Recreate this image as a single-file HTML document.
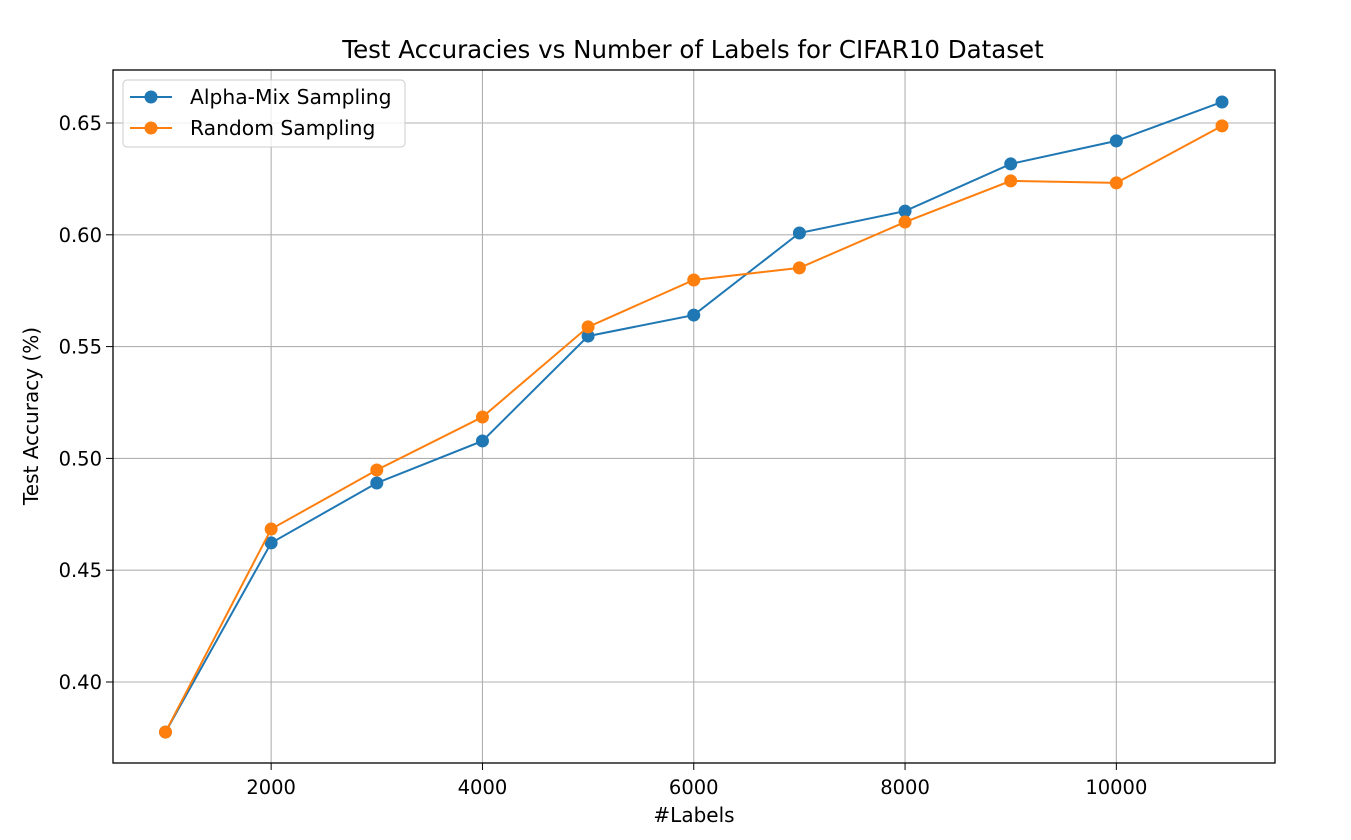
<!DOCTYPE html>
<html><head><meta charset="utf-8"><style>
body{margin:0;background:#fff;}
svg{font-family:"DejaVu Sans","Liberation Sans",sans-serif;}
</style></head><body>
<svg id="chart" width="1351" height="835" xmlns="http://www.w3.org/2000/svg">
<rect width="1351" height="835" fill="#fff"/>
<text x="693" y="58" font-size="24.5" text-anchor="middle">Test Accuracies vs Number of Labels for CIFAR10 Dataset</text>
<g id="grid"></g>
<g id="series"></g>
<rect x="113" y="70" width="1162" height="693" fill="none" stroke="#000" stroke-width="1.3"/>
<g id="ticks"></g>
<text x="694" y="822" font-size="20" text-anchor="middle">#Labels</text>
<text transform="translate(38,416) rotate(-90)" font-size="20" text-anchor="middle">Test Accuracy (%)</text>
<g>
<rect x="123" y="80" width="282" height="67" rx="4" fill="#fff" fill-opacity="0.8" stroke="#ccc"/>
<g>
<line x1="130" y1="97" x2="172" y2="97" stroke="#1f77b4" stroke-width="2"/><circle cx="151" cy="97" r="6.5" fill="#1f77b4"/>
<text x="190" y="104" font-size="20.3">Alpha-Mix Sampling</text></g>
<g>
<line x1="130" y1="128" x2="172" y2="128" stroke="#ff7f0e" stroke-width="2"/><circle cx="151" cy="128" r="6.5" fill="#ff7f0e"/>
<text x="190" y="135" font-size="20.3">Random Sampling</text></g>
</g>
</svg>
<script>
const labels=[1000,2000,3000,4000,5000,6000,7000,8000,9000,10000,11000];
const alphaMix=[0.3776,0.4622,0.489,0.5078,0.5547,0.5641,0.6008,0.6106,0.6317,0.642,0.6594];
const randomS=[0.3776,0.4684,0.4948,0.5185,0.5588,0.5798,0.5852,0.6057,0.6241,0.6232,0.6487];
const xTicks=[2000,4000,6000,8000,10000];
const yTicks=[0.40,0.45,0.50,0.55,0.60,0.65];
const NS="http://www.w3.org/2000/svg";
const xs=v=>165.5+(v-1000)*0.10565;
const ys=v=>123+(0.65-v)*2236;
function mk(t,a,p){const e=document.createElementNS(NS,t);for(const k in a)e.setAttribute(k,a[k]);p.appendChild(e);return e;}
const grid=document.getElementById('grid'),ticks=document.getElementById('ticks'),ser=document.getElementById('series');
xTicks.forEach(v=>{const x=xs(v);
const g=mk('line',{x1:x,x2:x,y1:70,y2:763,stroke:'#b0b0b0','stroke-width':1.1},grid);


mk('line',{x1:x,x2:x,y1:763,y2:770,stroke:'#000'},ticks);
const t=mk('text',{x:x,y:794,'font-size':19.5,'text-anchor':'middle'},ticks);t.textContent=v;

});
yTicks.forEach(v=>{const y=ys(v);
const g=mk('line',{x1:113,x2:1275,y1:y,y2:y,stroke:'#b0b0b0','stroke-width':1.1},grid);


mk('line',{x1:106,x2:113,y1:y,y2:y,stroke:'#000'},ticks);
const t=mk('text',{x:102,y:y+7,'font-size':19.5,'text-anchor':'end'},ticks);t.textContent=v.toFixed(2);

});
[[alphaMix,'#1f77b4','alpha-mix'],[randomS,'#ff7f0e','random']].forEach(([d,c,n])=>{
const g=mk('g',{},ser);


const pl=mk('polyline',{points:d.map((v,i)=>xs(labels[i])+','+ys(v)).join(' '),fill:'none',stroke:c,'stroke-width':2},g);


d.forEach((v,i)=>{const p=mk('circle',{cx:xs(labels[i]),cy:ys(v),r:6.5,fill:c},g);

});});
</script>
</body></html>
